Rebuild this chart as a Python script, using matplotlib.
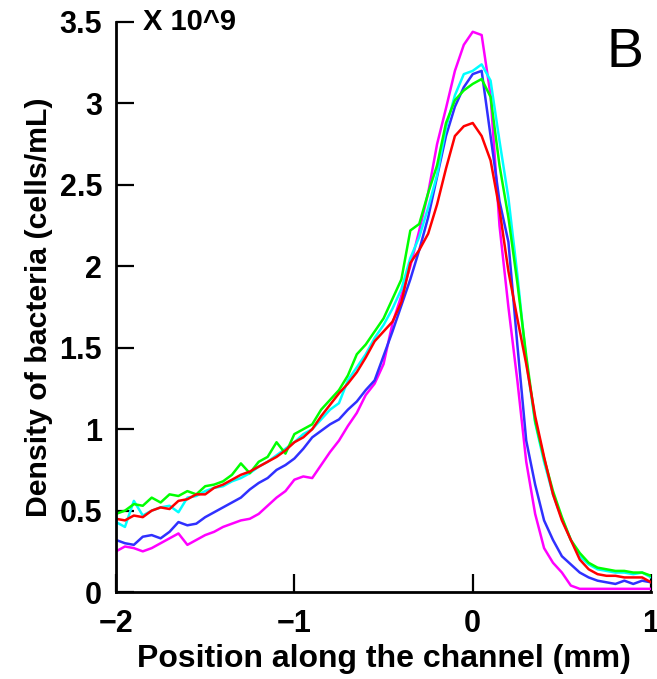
import numpy as np
import matplotlib
matplotlib.use('Agg')
import matplotlib.pyplot as plt

# position along the channel (mm), every 0.05 mm
position = np.round(np.arange(-2.0, 1.0001, 0.05), 2)

# density of bacteria, in units of 1e9 cells/mL
magenta = [0.25, 0.28, 0.27, 0.25, 0.27, 0.30, 0.33, 0.36, 0.29, 0.32,
           0.35, 0.37, 0.40, 0.42, 0.44, 0.45, 0.48, 0.53, 0.58, 0.62,
           0.69, 0.71, 0.70, 0.78, 0.86, 0.93, 1.02, 1.10, 1.21, 1.28,
           1.40, 1.65, 1.82, 2.00, 2.22, 2.45, 2.75, 2.97, 3.20, 3.36,
           3.44, 3.42, 3.05, 2.25, 1.75, 1.30, 0.80, 0.48, 0.27, 0.18,
           0.12, 0.04, 0.02, 0.02, 0.02, 0.02, 0.02, 0.02, 0.02, 0.02,
           0.02]
blue = [0.32, 0.30, 0.29, 0.34, 0.35, 0.33, 0.37, 0.43, 0.41, 0.42,
        0.46, 0.49, 0.52, 0.55, 0.58, 0.63, 0.67, 0.70, 0.75, 0.78,
        0.82, 0.88, 0.95, 0.99, 1.03, 1.06, 1.12, 1.17, 1.24, 1.30,
        1.45, 1.60, 1.76, 1.92, 2.10, 2.30, 2.55, 2.80, 2.98, 3.10,
        3.18, 3.20, 2.80, 2.40, 2.15, 1.52, 0.93, 0.66, 0.44, 0.32,
        0.22, 0.17, 0.12, 0.09, 0.07, 0.06, 0.05, 0.07, 0.05, 0.07,
        0.06]
cyan = [0.43, 0.40, 0.56, 0.47, 0.50, 0.52, 0.53, 0.49, 0.58, 0.59,
        0.62, 0.64, 0.65, 0.68, 0.70, 0.73, 0.77, 0.80, 0.84, 0.88,
        0.92, 0.97, 1.00, 1.06, 1.12, 1.16, 1.30, 1.38, 1.46, 1.56,
        1.64, 1.74, 1.86, 2.05, 2.18, 2.36, 2.56, 2.85, 3.05, 3.18,
        3.20, 3.24, 3.14, 2.77, 2.42, 1.95, 1.42, 1.04, 0.80, 0.60,
        0.45, 0.32, 0.22, 0.17, 0.14, 0.13, 0.12, 0.12, 0.11, 0.12,
        0.09]
green = [0.48, 0.50, 0.54, 0.53, 0.58, 0.55, 0.60, 0.59, 0.62, 0.60,
         0.65, 0.66, 0.68, 0.72, 0.79, 0.73, 0.80, 0.83, 0.92, 0.85,
         0.97, 1.00, 1.03, 1.12, 1.18, 1.24, 1.33, 1.46, 1.52, 1.60,
         1.68, 1.80, 1.92, 2.22, 2.26, 2.45, 2.62, 2.88, 3.02, 3.08,
         3.12, 3.15, 3.04, 2.62, 2.30, 1.90, 1.45, 1.05, 0.82, 0.62,
         0.46, 0.32, 0.24, 0.18, 0.15, 0.14, 0.13, 0.13, 0.12, 0.12,
         0.10]
red = [0.45, 0.44, 0.47, 0.46, 0.50, 0.52, 0.51, 0.56, 0.57, 0.60,
       0.60, 0.64, 0.66, 0.69, 0.72, 0.74, 0.77, 0.80, 0.83, 0.87,
       0.92, 0.95, 1.00, 1.08, 1.15, 1.22, 1.28, 1.35, 1.44, 1.54,
       1.60, 1.66, 1.78, 2.02, 2.10, 2.20, 2.38, 2.60, 2.80, 2.86,
       2.88, 2.80, 2.65, 2.35, 1.97, 1.68, 1.40, 1.08, 0.83, 0.60,
       0.44, 0.32, 0.20, 0.14, 0.11, 0.10, 0.10, 0.09, 0.09, 0.09,
       0.06]

series = [(magenta, '#ff00ff'), (blue, '#3030ff'), (cyan, '#00ffff'),
          (green, '#00ff00'), (red, '#ff0000')]

plt.rcParams['font.family'] = ['Liberation Sans', 'DejaVu Sans']

fig = plt.figure(figsize=(6.57, 6.79), dpi=100)
ax = fig.add_axes([0.1766, 0.128, 0.8144, 0.8396])

for vals, col in series:
    ax.plot(position, vals, color=col, lw=1.8)

ax.set_xlim(-2, 1)
ax.set_ylim(0, 3.5)
ax.set_xticks([-2, -1, 0, 1])
ax.set_xticklabels(['\u22122', '\u22121', '0', '1'])
ax.set_yticks([0, 0.5, 1, 1.5, 2, 2.5, 3, 3.5])
ax.set_yticklabels(['0', '0.5', '1', '1.5', '2', '2.5', '3', '3.5'])

for s in ['top', 'right']:
    ax.spines[s].set_visible(False)
for s in ['left', 'bottom']:
    ax.spines[s].set_linewidth(2)

ax.tick_params(direction='in', length=13, width=1.6, labelsize=22)
ax.tick_params(axis='y', pad=10)
ax.tick_params(axis='x', pad=12)
for lab in ax.get_xticklabels() + ax.get_yticklabels():
    lab.set_fontweight('bold')

ax.set_xlabel('Position along the channel (mm)', fontsize=23, fontweight='bold', labelpad=4)
ax.set_ylabel('Density of bacteria (cells/mL)', fontsize=21.8, fontweight='bold', labelpad=5)

ax.text(-1.85, 3.5, 'X 10^9', fontsize=21, fontweight='bold', va='center', ha='left')
ax.text(0.855, 3.31, 'B', fontsize=40, va='center', ha='center')

fig.savefig('out.png', dpi=100)
